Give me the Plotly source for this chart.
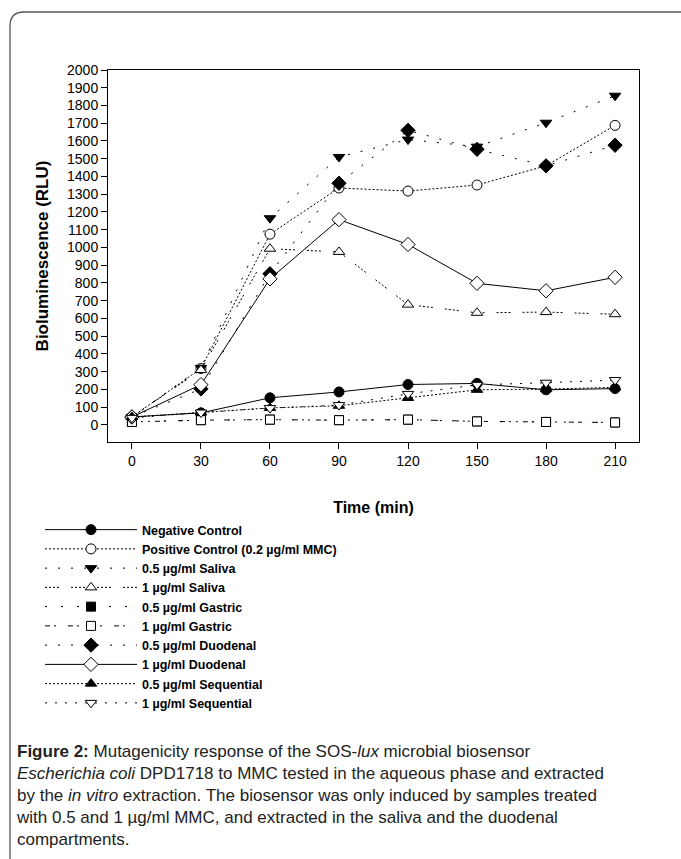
import plotly.graph_objects as go

time_min = [0, 30, 60, 90, 120, 150, 180, 210]

negative_control = [45, 68, 153, 186, 228, 234, 198, 205]
positive_control = [45, 318, 1075, 1335, 1318, 1352, 1460, 1688]
saliva_05 = [45, 322, 1165, 1510, 1608, 1568, 1703, 1855]
saliva_1 = [45, 310, 993, 975, 678, 632, 636, 624]
gastric_05 = [18, 27, 30, 27, 30, 20, 17, 14]
gastric_1 = [17, 27, 30, 27, 30, 20, 17, 14]
duodenal_05 = [45, 203, 852, 1362, 1660, 1553, 1460, 1576]
duodenal_1 = [45, 227, 823, 1157, 1017, 798, 756, 832]
sequential_05 = [45, 70, 96, 108, 152, 198, 202, 212]
sequential_1 = [40, 70, 95, 112, 175, 226, 238, 253]

series_names = [
    "Negative Control",
    "Positive Control (0.2 µg/ml MMC)",
    "0.5 µg/ml Saliva",
    "1 µg/ml Saliva",
    "0.5 µg/ml Gastric",
    "1 µg/ml Gastric",
    "0.5 µg/ml Duodenal",
    "1 µg/ml Duodenal",
    "0.5 µg/ml Sequential",
    "1 µg/ml Sequential",
]
series_values = [
    negative_control, positive_control, saliva_05, saliva_1, gastric_05,
    gastric_1, duodenal_05, duodenal_1, sequential_05, sequential_1,
]
# (symbol, filled, size, dash)
styles = [
    ("circle", True, 10, "solid"),
    ("circle", False, 10, "2px,2px"),
    ("triangle-down", True, 10, "2px,11px"),
    ("triangle-up", False, 10, "2px,2px,2px,2px,2px,2px,2px,12px"),
    ("square", True, 9, "2px,14px"),
    ("square", False, 9, "5px,4px,2px,12px"),
    ("diamond", True, 11, "2px,11px"),
    ("diamond", False, 11, "solid"),
    ("triangle-up", True, 10, "2px,2px"),
    ("triangle-down", False, 10, "2px,8px"),
]

fig = go.Figure()
for name, vals, (sym, filled, size, dash) in zip(series_names, series_values, styles):
    fig.add_trace(go.Scatter(
        x=time_min, y=vals, name=name, mode="lines+markers",
        line=dict(color="black", width=1, dash=dash),
        marker=dict(symbol=sym, size=size, color="black" if filled else "white",
                    line=dict(color="black", width=1)),
    ))

L, R, T, B = 108, 42, 70, 417
W, H = 681, 859
pw, ph = W - L - R, H - T - B

def px_x(p):
    return (p - L) / pw

def px_y(p):
    return (H - B - p) / ph

axis_font = dict(family="Liberation Sans, Arial, sans-serif", size=14, color="black")
fig.update_xaxes(
    range=[-10.4, 220.4], tickvals=time_min, showgrid=False, zeroline=False,
    showline=True, mirror=True, linecolor="black", linewidth=1,
    ticks="outside", ticklen=6, tickcolor="black", tickfont=axis_font,
    title=dict(text="<b>Time (min)</b>", font=dict(family="Liberation Sans, Arial", size=16, color="black"), standoff=34),
)
fig.update_yaxes(
    range=[-96, 2000], tickvals=list(range(0, 2001, 100)), showgrid=False, zeroline=False,
    showline=True, mirror=True, linecolor="black", linewidth=1,
    ticks="outside", ticklen=6, tickcolor="black", tickfont=axis_font,
    title=dict(text="<b>Bioluminescence (RLU)</b>", font=dict(family="Liberation Sans, Arial", size=17, color="black"), standoff=14),
)

caption = (
    "<b>Figure 2:</b> Mutagenicity response of the SOS-<i>lux</i> microbial biosensor<br>"
    "<i>Escherichia coli</i> DPD1718 to MMC tested in the aqueous phase and extracted<br>"
    "by the <i>in vitro</i> extraction. The biosensor was only induced by samples treated<br>"
    "with 0.5 and 1 µg/ml MMC, and extracted in the saliva and the duodenal<br>"
    "compartments."
)
fig.add_annotation(
    text=caption, xref="paper", yref="paper", x=px_x(14), y=px_y(740),
    xanchor="left", yanchor="top", align="left", showarrow=False,
    font=dict(family="Liberation Sans, Arial", size=17, color="#222"),
)

fig.add_shape(
    type="path", xref="paper", yref="paper",
    path=(f"M {px_x(10)} {px_y(880)} L {px_x(10)} {px_y(26)} "
          f"Q {px_x(10)} {px_y(12)} {px_x(24)} {px_y(12)} L {px_x(700)} {px_y(12)}"),
    line=dict(color="#555", width=1.3),
)

fig.update_layout(
    width=W, height=H, margin=dict(l=L, r=R, t=T, b=B),
    paper_bgcolor="white", plot_bgcolor="white",
    showlegend=True,
    legend=dict(
        x=px_x(40), y=px_y(515), xanchor="left", yanchor="top",
        itemwidth=92, tracegroupgap=0,
        font=dict(family="Liberation Sans, Arial", size=12.5, color="black", weight="bold"),
        bgcolor="rgba(0,0,0,0)",
    ),
)

fig.write_html(
    "out.html",
    config={"displayModeBar": False},
    post_script="document.body.style.margin='0';document.body.style.overflow='hidden';",
)
